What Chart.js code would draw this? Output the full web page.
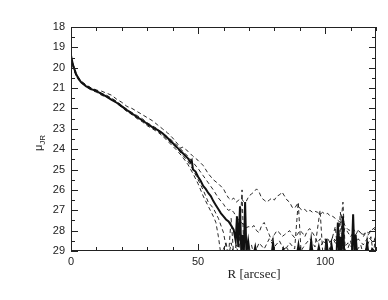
<!DOCTYPE html>
<html>
<head>
<meta charset="utf-8">
<script src="https://cdn.jsdelivr.net/npm/chart.js@4/dist/chart.umd.min.js"></script>
<style>
    html, body { margin: 0; padding: 0; background: #fff; }
    #wrap { width: 388px; height: 300px; }
</style>
</head>
<body>
<div id="wrap"><canvas id="profileChart"></canvas></div>
<script>
// surface brightness profiles, mu_JR vs R [arcsec]
const solidR = [0, 0.5, 1, 2, 3, 4, 6, 8, 10, 12, 14, 16, 18, 20, 22, 24, 26, 28, 30, 32, 34, 36, 38, 40, 42, 44, 46, 47, 47.5, 48, 49, 50, 51, 52, 53, 54, 55, 56, 57, 58, 59, 60, 61, 62, 63, 64, 64.8, 65.3, 65.8, 66.5, 67, 67.5, 68, 68.5, 69, 69.7, 70.3, 72, 72.5, 73, 79, 79.5, 80, 83, 83.5, 84, 89, 89.5, 90, 94, 94.5, 95, 97, 97.5, 98, 100, 100.5, 101, 102, 102.5, 103, 104.5, 105, 105.5, 106, 106.5, 107, 107.5, 108, 110.5, 111, 111.5, 112, 112.5, 116, 116.5, 117, 118, 118.5, 120];
const solidMu = [19.4, 19.7, 19.95, 20.3, 20.55, 20.72, 20.92, 21.05, 21.15, 21.28, 21.42, 21.58, 21.72, 21.9, 22.08, 22.25, 22.42, 22.58, 22.75, 22.92, 23.05, 23.22, 23.45, 23.7, 23.95, 24.2, 24.45, 24.65, 24.55, 25.0, 25.1, 25.35, 25.55, 25.8, 25.95, 26.15, 26.3, 26.55, 26.75, 26.95, 27.15, 27.3, 27.45, 27.55, 27.75, 27.95, 28.5, 27.3, 28.8, 26.8, 29.1, 28.2, 29.1, 26.6, 29.1, 28.5, 29.1, 29.1, 28.8, 29.1, 29.1, 28.6, 29.1, 29.1, 28.9, 29.1, 29.1, 28.7, 29.1, 29.1, 28.5, 29.1, 29.1, 28.8, 29.1, 29.1, 28.4, 29.1, 29.1, 28.7, 29.1, 29.1, 27.6, 29.1, 28.3, 29.1, 27.3, 29.1, 29.1, 29.1, 27.2, 29.1, 28.2, 29.1, 29.1, 28.6, 29.1, 29.1, 28.9, 29.1];

const dash1R = [0, 1, 2, 4, 6, 8, 10, 12, 14, 16, 18, 20, 22, 24, 26, 28, 30, 32, 34, 36, 38, 40, 42, 43, 44, 46, 48, 50, 52, 54, 56, 58, 60, 61, 62, 63, 64, 65, 66, 67, 68, 69, 70, 71, 72, 73, 74, 75, 76, 77, 78, 79, 80, 81, 82, 83, 84, 85, 86, 87, 88, 89, 90, 91, 92, 93, 94, 95, 96, 97, 98, 99, 100, 101, 102, 103, 104, 105, 106, 107, 108, 109, 110, 111, 112, 113, 114, 115, 116, 117, 118, 119, 120];
const dash1Mu = [19.5, 20.0, 20.35, 20.7, 20.85, 21.0, 21.1, 21.15, 21.25, 21.35, 21.55, 21.7, 21.9, 22.0, 22.15, 22.3, 22.45, 22.6, 22.8, 23.0, 23.2, 23.45, 23.75, 23.95, 23.9, 24.1, 24.35, 24.55, 24.8, 25.2, 25.5, 25.7, 25.95, 26.2, 26.4, 26.5, 26.4, 26.6, 26.5, 26.4, 26.6, 26.55, 26.3, 26.2, 26.1, 25.95, 26.1, 26.4, 26.5, 26.6, 26.5, 26.4, 26.5, 26.3, 26.25, 26.1, 26.3, 26.5, 26.6, 26.85, 26.9, 26.7, 26.9, 27.0, 26.95, 27.1, 27.0, 27.1, 27.05, 27.1, 27.2, 27.1, 27.2, 27.15, 27.3, 27.3, 27.4, 27.5, 27.6, 27.55, 27.8, 27.95, 28.0, 27.9, 28.1, 28.0, 28.1, 28.2, 28.05, 28.1, 28.0, 27.9, 28.0];

const dash2R = [0, 1, 2, 4, 6, 8, 10, 12, 14, 16, 18, 20, 22, 24, 26, 28, 30, 32, 34, 36, 38, 40, 42, 44, 46, 48, 50, 52, 54, 56, 58, 60, 61, 62, 63, 64, 65, 66, 67, 68, 69, 70, 71, 72, 73, 74, 75, 76, 77, 78, 79, 80, 81, 82, 83, 84, 85, 86, 87, 88, 89, 90, 91, 92, 93, 94, 95, 96, 97, 98, 99, 100, 101, 102, 103, 104, 105, 106, 107, 108, 109, 110, 111, 112, 113, 114, 115, 116, 117, 118, 119, 120];
const dash2Mu = [19.45, 19.9, 20.3, 20.65, 20.85, 21.0, 21.1, 21.25, 21.35, 21.5, 21.65, 21.85, 22.05, 22.2, 22.35, 22.5, 22.7, 22.85, 23.0, 23.2, 23.4, 23.6, 23.85, 24.1, 24.35, 24.65, 24.95, 25.3, 25.65, 26.0, 26.4, 26.7, 26.9, 27.0, 26.95, 27.1, 27.3, 27.5, 27.6, 27.7, 27.85, 27.8, 27.85, 27.75, 28.0, 28.1, 27.75, 27.6, 27.9, 28.2, 28.5, 28.2, 28.0, 28.1, 28.3, 28.2, 28.1, 28.0, 28.2, 28.35, 28.2, 28.0, 28.1, 28.3, 28.0, 27.9, 28.1, 28.3, 28.6, 28.4, 28.5, 28.6, 28.4, 28.6, 28.3, 28.5, 28.3, 28.1, 28.0, 27.9, 28.1, 28.3, 28.1, 28.2, 28.0, 28.1, 28.3, 28.1, 28.2, 28.0, 27.9, 27.8];

const dash3R = [0, 1, 2, 4, 6, 8, 10, 12, 14, 16, 18, 20, 22, 24, 26, 28, 30, 32, 34, 36, 38, 40, 42, 44, 46, 48, 50, 52, 54, 56, 58, 60, 61, 62, 63, 64, 65, 66, 67.3, 68, 70, 72, 74, 76, 78, 80, 82, 84, 86, 88, 89.4, 90.5, 92, 94, 96, 98, 99, 101, 103, 105, 106, 107, 109, 111, 113, 115, 117, 119, 120];
const dash3Mu = [19.5, 19.95, 20.4, 20.75, 20.9, 21.05, 21.15, 21.3, 21.4, 21.5, 21.7, 21.9, 22.1, 22.3, 22.45, 22.6, 22.8, 22.95, 23.1, 23.3, 23.55, 23.75, 24.0, 24.3, 24.6, 25.0, 25.5, 26.0, 26.6, 26.9, 27.4, 28.1, 28.8, 29.3, 28.6, 29.2, 28.7, 29.2, 26.0, 29.2, 28.9, 29.2, 28.6, 28.9, 28.4, 28.8, 28.5, 29.0, 28.6, 28.9, 26.6, 29.0, 28.7, 28.4, 28.8, 27.0, 29.0, 28.7, 28.4, 28.8, 27.1, 28.9, 28.6, 28.9, 28.4, 28.7, 28.3, 28.6, 28.2];

const dash4R = [0, 1, 2, 4, 6, 8, 10, 12, 14, 16, 18, 20, 22, 24, 26, 28, 30, 32, 34, 36, 38, 40, 42, 44, 46, 48, 50, 52, 54, 56, 57, 58, 59, 61, 62, 63, 64, 66, 68, 71, 72, 77, 80, 85, 86, 95, 96, 100, 101, 104, 105, 107, 108, 110, 111, 114, 115, 118, 119, 120];
const dash4Mu = [19.55, 20.05, 20.4, 20.7, 20.95, 21.1, 21.2, 21.35, 21.45, 21.55, 21.75, 21.95, 22.15, 22.3, 22.5, 22.65, 22.85, 23.0, 23.15, 23.35, 23.6, 23.85, 24.1, 24.4, 24.75, 25.2, 25.7, 26.3, 26.8, 27.3, 27.6, 28.3, 29.2, 28.6, 29.2, 27.4, 29.2, 29.0, 29.2, 28.7, 29.2, 29.0, 29.2, 28.8, 29.2, 28.9, 29.2, 28.4, 29.2, 27.8, 29.2, 26.6, 29.2, 28.5, 29.2, 28.7, 29.2, 28.3, 29.2, 28.0];

const yTicks = [18, 19, 20, 21, 22, 23, 24, 25, 26, 27, 28, 29];
const xTicks = [0, 50, 100];

function toPoints(rs, mus) {
    return rs.map(function (r, i) { return { x: r, y: mus[i] }; });
}

// box with inward ticks on all four sides, like the original plot
const frameTicks = {
    id: "frameTicks",
    afterDraw: function (chart) {
        const ctx = chart.ctx;
        const a = chart.chartArea;
        const xs = chart.scales.x;
        const ys = chart.scales.y;
        ctx.save();
        ctx.strokeStyle = "#222";
        ctx.lineWidth = 1;
        ctx.strokeRect(a.left + 0.5, a.top + 0.5, a.right - a.left - 1, a.bottom - a.top - 1);
        ctx.beginPath();
        for (let v = 0; v <= 120; v += 10) {
            const len = v % 50 === 0 ? 7 : 4;
            const px = Math.round(xs.getPixelForValue(v)) + 0.5;
            ctx.moveTo(px, a.bottom);
            ctx.lineTo(px, a.bottom - len);
            ctx.moveTo(px, a.top);
            ctx.lineTo(px, a.top + len);
        }
        for (let v = 18; v <= 29; v += 0.5) {
            const len = v % 1 === 0 ? 7 : 4;
            const py = Math.round(ys.getPixelForValue(v)) + 0.5;
            ctx.moveTo(a.left, py);
            ctx.lineTo(a.left + len, py);
            ctx.moveTo(a.right, py);
            ctx.lineTo(a.right - len, py);
        }
        ctx.stroke();

        // axis titles
        ctx.fillStyle = "#222";
        ctx.font = "13px 'Liberation Serif'";
        ctx.textAlign = "center";
        ctx.textBaseline = "alphabetic";
        ctx.fillText("R [arcsec]", 254, 278);

        ctx.translate(42, 151);
        ctx.rotate(-Math.PI / 2);
        ctx.textAlign = "left";
        ctx.font = "11px 'Liberation Sans'";
        ctx.fillText("μ", 0, 0);
        const w = ctx.measureText("μ").width;
        ctx.font = "8px 'Liberation Sans'";
        ctx.fillText("JR", w, 3);
        ctx.restore();
    }
};

function lineSet(data, width, dash) {
    return {
        data: data,
        borderColor: "#111",
        borderWidth: width,
        borderDash: dash,
        pointRadius: 0,
        fill: false,
        tension: 0,
        clip: 0,
    };
}

new Chart(document.getElementById("profileChart"), {
    type: "line",
    data: {
        datasets: [
            lineSet(toPoints(dash1R, dash1Mu), 0.9, [4, 3]),
            lineSet(toPoints(dash2R, dash2Mu), 0.9, [4, 3]),
            lineSet(toPoints(dash3R, dash3Mu), 0.9, [4, 3]),
            lineSet(toPoints(dash4R, dash4Mu), 0.9, [4, 3]),
            lineSet(toPoints(solidR, solidMu), 2, []),
        ],
    },
    options: {
        responsive: true,
        maintainAspectRatio: false,
        animation: false,
        layout: {
            padding: { left: 0, right: 12, top: 27, bottom: 0 },
        },
        plugins: {
            legend: { display: false },
            tooltip: { enabled: false },
        },
        scales: {
            x: {
                type: "linear",
                min: 0,
                max: 120,
                afterBuildTicks: function (scale) {
                    scale.ticks = xTicks.map(function (v) { return { value: v }; });
                },
                afterFit: function (scale) { scale.height = 49; },
                grid: { display: false, drawTicks: false },
                border: { display: false },
                ticks: {
                    color: "#222",
                    padding: 4,
                    maxRotation: 0,
                    font: { family: "'Liberation Sans'", size: 11 },
                },
            },
            y: {
                type: "linear",
                reverse: true,
                min: 18,
                max: 29,
                afterBuildTicks: function (scale) {
                    scale.ticks = yTicks.map(function (v) { return { value: v }; });
                },
                afterFit: function (scale) { scale.width = 71; },
                grid: { display: false, drawTicks: false },
                border: { display: false },
                ticks: {
                    color: "#222",
                    padding: 6,
                    font: { family: "'Liberation Sans'", size: 11 },
                },
            },
        },
    },
    plugins: [frameTicks],
});
</script>
</body>
</html>
